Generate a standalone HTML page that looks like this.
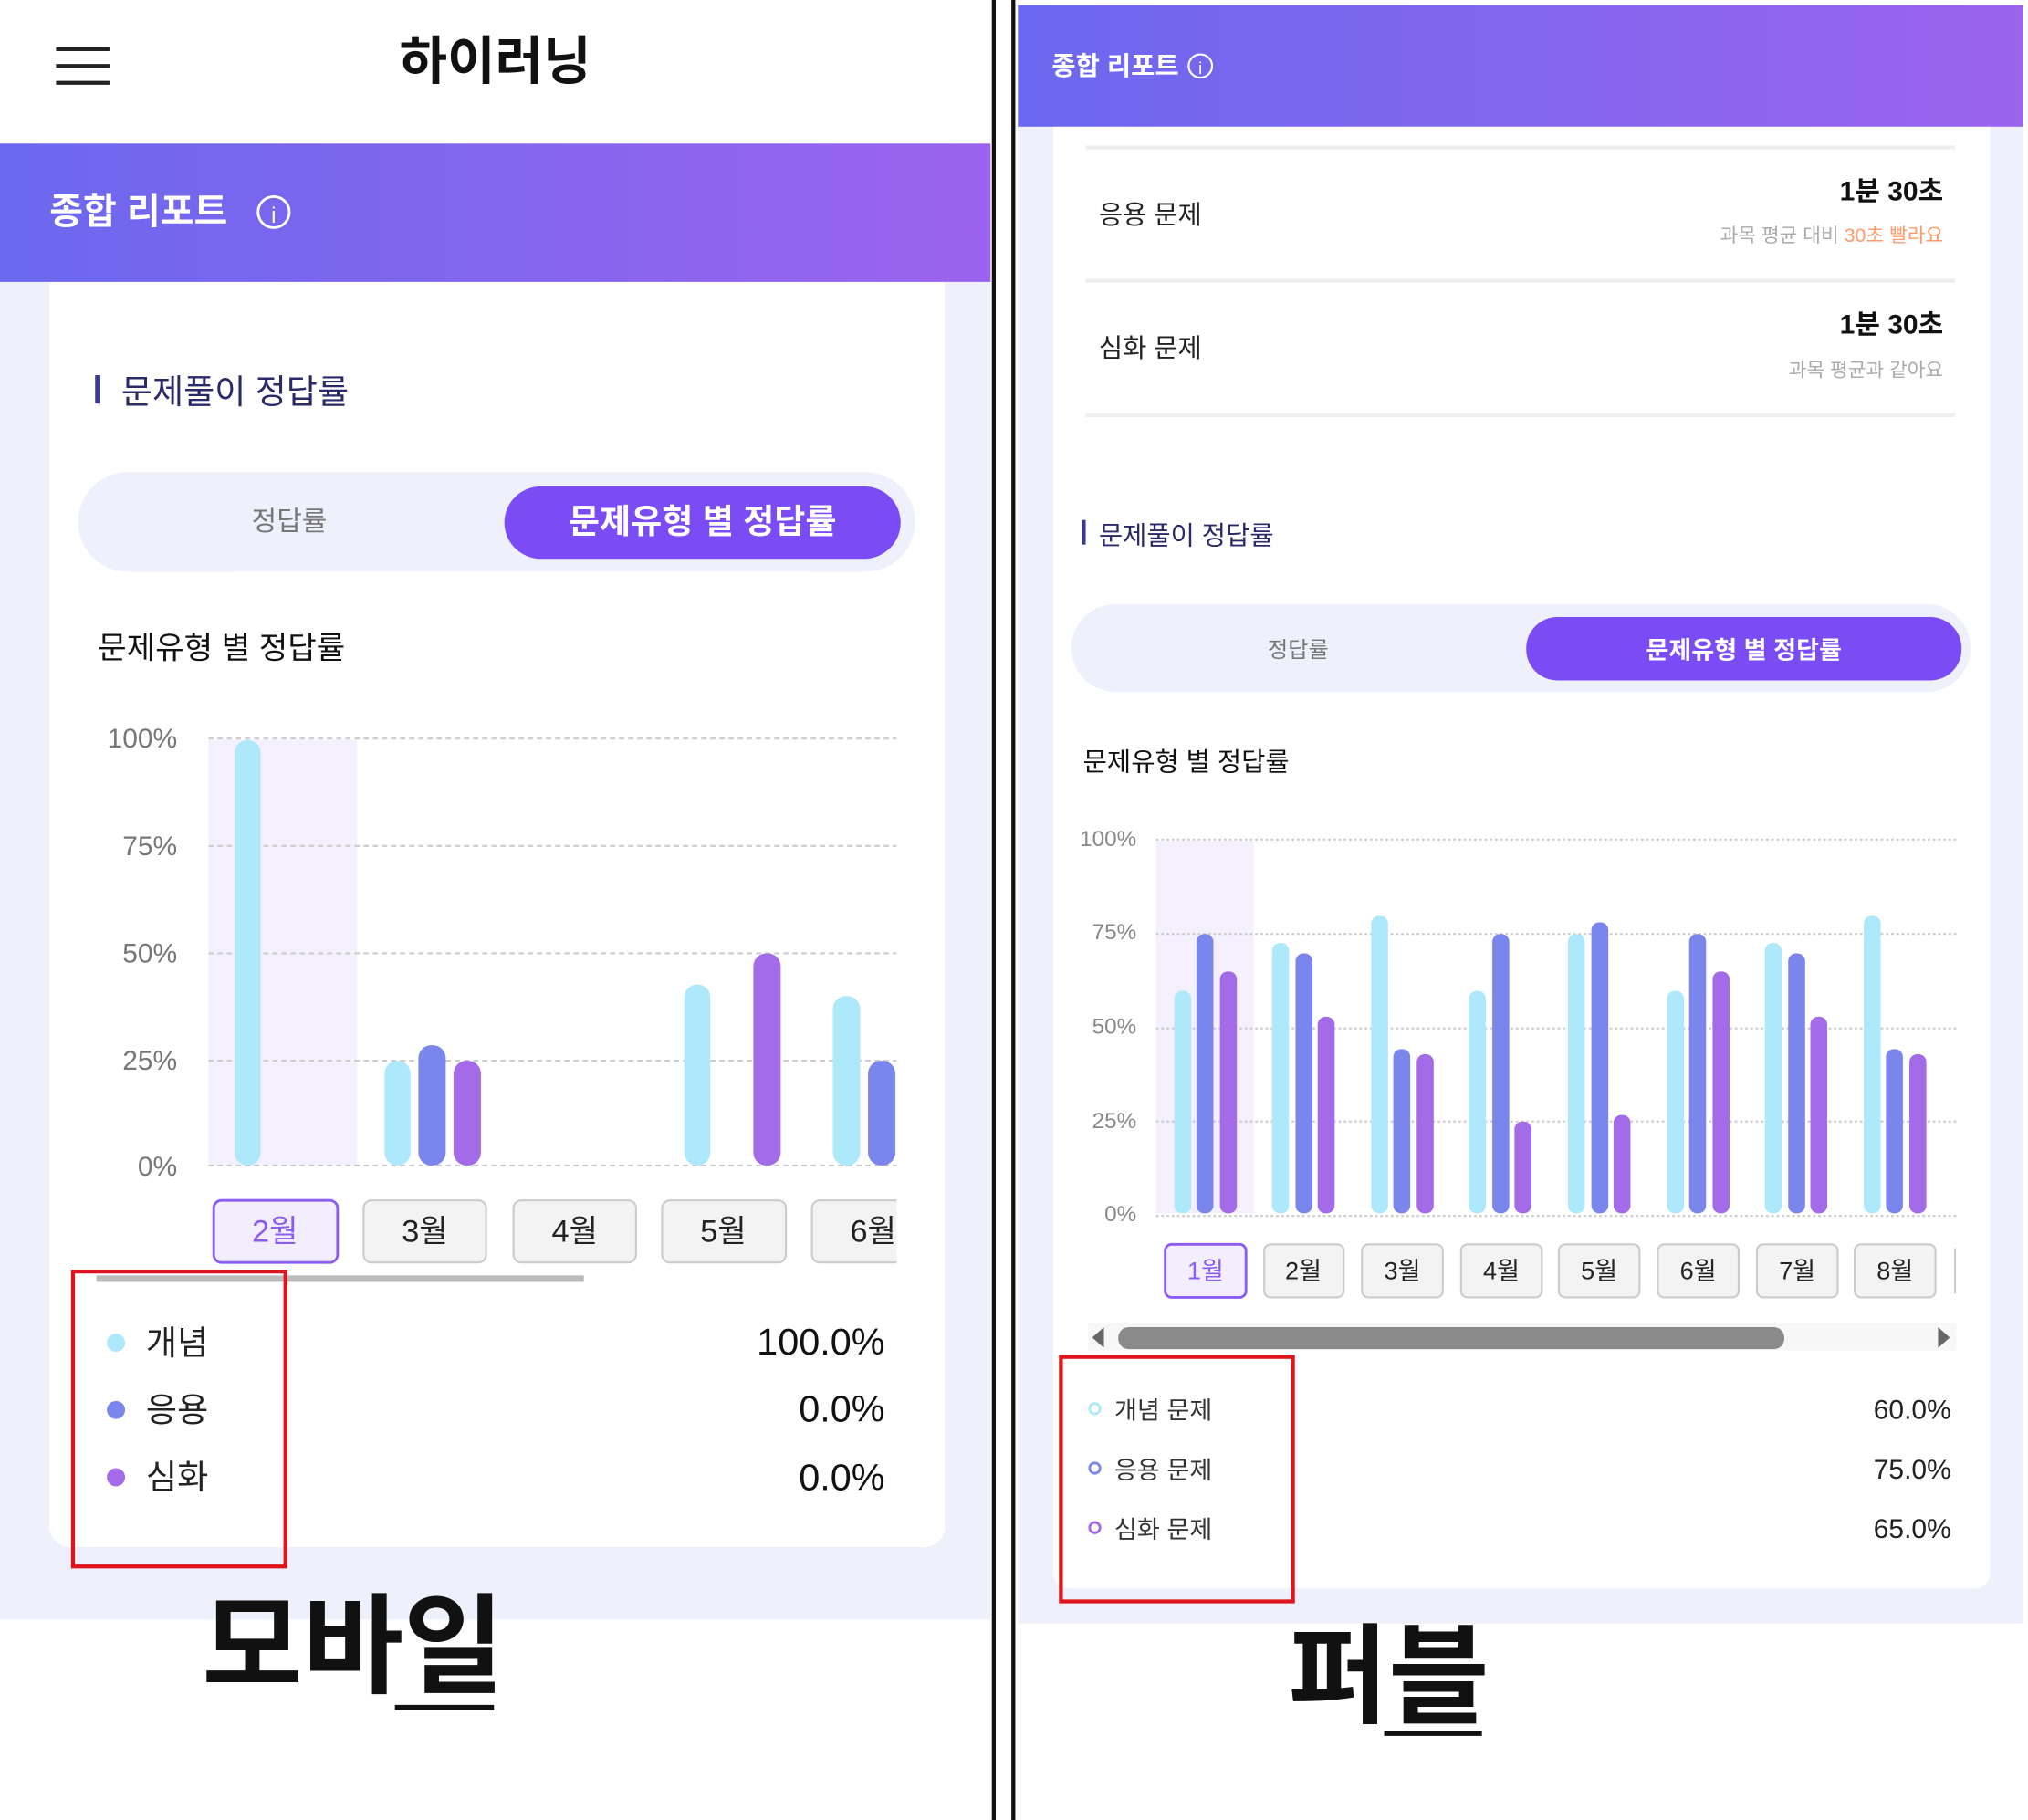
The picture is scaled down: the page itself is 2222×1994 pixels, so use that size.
<!DOCTYPE html>
<html><head><meta charset="utf-8"><style>html,body{margin:0;padding:0;background:#fff}svg{display:block}text{font-family:"Liberation Sans","Noto Sans CJK KR",sans-serif}</style></head><body>
<svg width="2222" height="1994" viewBox="0 0 1556 1407" preserveAspectRatio="none" xmlns="http://www.w3.org/2000/svg">
<defs>
<linearGradient id="g" x1="0" x2="1" y1="0" y2="0"><stop offset="0" stop-color="#6b68ee"/><stop offset="1" stop-color="#9b63ee"/></linearGradient>
</defs>
<rect width="1556" height="1407" fill="#fff"/>
<!-- LEFT -->
<g stroke="#222" stroke-width="3"><line x1="43" y1="38" x2="84" y2="38"/><line x1="43" y1="51" x2="84" y2="51"/><line x1="43" y1="64" x2="84" y2="64"/></g>
<text x="380" y="61" font-size="40" font-weight="bold" text-anchor="middle" fill="#111">하이러닝</text>
<rect x="0" y="111" width="760" height="107" fill="url(#g)"/>
<text x="38" y="173" font-size="28" font-weight="bold" fill="#fff">종합 리포트</text>
<circle cx="210" cy="164" r="12" fill="none" stroke="#fff" stroke-width="2"/><text x="210" y="172" font-size="17" fill="#fff" text-anchor="middle">i</text>
<rect x="0" y="218" width="760" height="1034" fill="#eef0fb"/>
<path d="M38 218 H725 V1180 a16 16 0 0 1 -16 16 H54 a16 16 0 0 1 -16 -16Z" fill="#fff"/>
<rect x="73" y="290" width="4" height="22" fill="#3a3a8a"/>
<text x="93" y="312" font-size="26" fill="#2a2a6a">문제풀이 정답률</text>
<rect x="60" y="365" width="642" height="77" rx="38" fill="#eef0fb"/>
<rect x="387" y="376" width="304" height="56" rx="28" fill="#7b4cf5"/>
<text x="222" y="410" font-size="21" fill="#777" text-anchor="middle">정답률</text>
<text x="539" y="412" font-size="26" font-weight="bold" fill="#fff" text-anchor="middle">문제유형 별 정답률</text>
<text x="75" y="509" font-size="24" fill="#111">문제유형 별 정답률</text>
<g font-size="21" fill="#777" text-anchor="end"><text x="136" y="578">100%</text><text x="136" y="661">75%</text><text x="136" y="744">50%</text><text x="136" y="827">25%</text><text x="136" y="909">0%</text></g>
<rect x="160" y="572" width="114" height="329" fill="#f5f0fe"/>
<g stroke="#ccc" stroke-width="1.5" stroke-dasharray="4 3"><line x1="160" y1="571" x2="688" y2="571"/><line x1="160" y1="654" x2="688" y2="654"/><line x1="160" y1="737" x2="688" y2="737"/><line x1="160" y1="820" x2="688" y2="820"/><line x1="160" y1="901" x2="688" y2="901"/></g>
<g>
<rect x="180" y="572" width="20" height="329" rx="10" fill="#aee8fb"/>
<rect x="295" y="820" width="20" height="81" rx="10" fill="#aee8fb"/>
<rect x="321" y="808" width="21" height="93" rx="10" fill="#7b86ec"/>
<rect x="348" y="820" width="21" height="81" rx="10" fill="#a36be8"/>
<rect x="525" y="761" width="20" height="140" rx="10" fill="#aee8fb"/>
<rect x="578" y="737" width="21" height="164" rx="10" fill="#a36be8"/>
<rect x="639" y="770" width="21" height="131" rx="10" fill="#aee8fb"/>
<rect x="666" y="820" width="21" height="81" rx="10" fill="#7b86ec"/>
</g>
<rect x="164" y="928" width="95" height="48" rx="6" fill="#f3eefe" stroke="#8a5cf0" stroke-width="2"/>
<g fill="#f3f3f3" stroke="#ccc" stroke-width="1.5"><rect x="279" y="928" width="94" height="48" rx="6"/><rect x="394" y="928" width="94" height="48" rx="6"/><rect x="508" y="928" width="95" height="48" rx="6"/><path d="M688 928 H629 a6 6 0 0 0 -6 6 V970 a6 6 0 0 0 6 6 H688"/></g>
<g font-size="24" text-anchor="middle" fill="#222"><text x="211" y="960" fill="#8a5cf0">2월</text><text x="326" y="960">3월</text><text x="441" y="960">4월</text><text x="555" y="960">5월</text><text x="670" y="960">6월</text></g>
<rect x="74" y="986" width="374" height="5" fill="#bbb"/>
<circle cx="89" cy="1038" r="7" fill="#aee8fb"/><circle cx="89" cy="1090" r="7" fill="#7b86ec"/><circle cx="89" cy="1142" r="7" fill="#a36be8"/>
<g font-size="26" fill="#222"><text x="112" y="1047">개념</text><text x="112" y="1099">응용</text><text x="112" y="1151">심화</text></g>
<g font-size="29" fill="#111" text-anchor="end"><text x="679" y="1047">100.0%</text><text x="679" y="1099">0.0%</text><text x="679" y="1152">0.0%</text></g>
<rect x="56" y="983" width="163" height="228" fill="none" stroke="#e0141c" stroke-width="3"/>
<text x="155" y="1302" font-size="84" font-weight="bold" fill="#111">모바일</text>
<rect x="303" y="1318" width="76" height="4" fill="#111"/>
<rect x="761" y="0" width="3" height="1407" fill="#111"/><rect x="776" y="0" width="3" height="1407" fill="#111"/>
<!-- RIGHT -->
<rect x="781" y="4" width="771" height="94" fill="url(#g)"/>
<text x="807" y="58" font-size="20" font-weight="bold" fill="#fff">종합 리포트</text>
<circle cx="921" cy="51" r="9" fill="none" stroke="#fff" stroke-width="1.5"/><text x="921" y="57" font-size="13" fill="#fff" text-anchor="middle">i</text>
<rect x="781" y="98" width="771" height="1157" fill="#eef0fb"/>
<path d="M808 98 H1527 V1216 a12 12 0 0 1 -12 12 H820 a12 12 0 0 1 -12 -12Z" fill="#fff"/>
<g stroke="#eee" stroke-width="3"><line x1="833" y1="114" x2="1500" y2="114"/><line x1="833" y1="217" x2="1500" y2="217"/><line x1="833" y1="321" x2="1500" y2="321"/></g>
<g font-size="20" fill="#222"><text x="843" y="173">응용 문제</text><text x="843" y="276">심화 문제</text></g>
<g font-size="21" font-weight="bold" fill="#111" text-anchor="end"><text x="1491" y="155">1분 30초</text><text x="1491" y="258">1분 30초</text></g>
<text x="1491" y="187" font-size="15" fill="#aaa" text-anchor="end">과목 평균 대비 <tspan fill="#ff9c6a">30초 빨라요</tspan></text>
<text x="1491" y="291" font-size="15" fill="#aaa" text-anchor="end">과목 평균과 같아요</text>
<rect x="830" y="402" width="3" height="19" fill="#3a3a8a"/>
<text x="843" y="421" font-size="20" fill="#2a2a6a">문제풀이 정답률</text>
<rect x="822" y="467" width="690" height="68" rx="34" fill="#eef0fb"/>
<rect x="1171" y="477" width="334" height="49" rx="24" fill="#7b4cf5"/>
<text x="996" y="508" font-size="17" fill="#777" text-anchor="middle">정답률</text>
<text x="1338" y="509" font-size="19" font-weight="bold" fill="#fff" text-anchor="middle">문제유형 별 정답률</text>
<text x="831" y="596" font-size="20" fill="#111">문제유형 별 정답률</text>
<g font-size="17" fill="#888" text-anchor="end"><text x="872" y="654">100%</text><text x="872" y="726">75%</text><text x="872" y="799">50%</text><text x="872" y="872">25%</text><text x="872" y="944">0%</text></g>
<rect x="887" y="650" width="75" height="288" fill="#f5f0fe"/>
<g stroke="#ccc" stroke-width="1.5" stroke-dasharray="2 2"><line x1="887" y1="649" x2="1503" y2="649"/><line x1="887" y1="722" x2="1503" y2="722"/><line x1="887" y1="795" x2="1503" y2="795"/><line x1="887" y1="867" x2="1503" y2="867"/><line x1="887" y1="940" x2="1503" y2="940"/></g>
<g>
<rect x="901" y="766" width="13" height="172" rx="6" fill="#aee8fb"/><rect x="918" y="722" width="13" height="216" rx="6" fill="#7b86ec"/><rect x="936" y="751" width="13" height="187" rx="6" fill="#a36be8"/>
<rect x="976" y="729" width="13" height="209" rx="6" fill="#aee8fb"/><rect x="994" y="737" width="13" height="201" rx="6" fill="#7b86ec"/><rect x="1011" y="786" width="13" height="152" rx="6" fill="#a36be8"/>
<rect x="1052" y="708" width="13" height="230" rx="6" fill="#aee8fb"/><rect x="1069" y="811" width="13" height="127" rx="6" fill="#7b86ec"/><rect x="1087" y="815" width="13" height="123" rx="6" fill="#a36be8"/>
<rect x="1127" y="766" width="13" height="172" rx="6" fill="#aee8fb"/><rect x="1145" y="722" width="13" height="216" rx="6" fill="#7b86ec"/><rect x="1162" y="867" width="13" height="71" rx="6" fill="#a36be8"/>
<rect x="1203" y="722" width="13" height="216" rx="6" fill="#aee8fb"/><rect x="1221" y="713" width="13" height="225" rx="6" fill="#7b86ec"/><rect x="1238" y="862" width="13" height="76" rx="6" fill="#a36be8"/>
<rect x="1279" y="766" width="13" height="172" rx="6" fill="#aee8fb"/><rect x="1296" y="722" width="13" height="216" rx="6" fill="#7b86ec"/><rect x="1314" y="751" width="13" height="187" rx="6" fill="#a36be8"/>
<rect x="1354" y="729" width="13" height="209" rx="6" fill="#aee8fb"/><rect x="1372" y="737" width="13" height="201" rx="6" fill="#7b86ec"/><rect x="1389" y="786" width="13" height="152" rx="6" fill="#a36be8"/>
<rect x="1430" y="708" width="13" height="230" rx="6" fill="#aee8fb"/><rect x="1447" y="811" width="13" height="127" rx="6" fill="#7b86ec"/><rect x="1465" y="815" width="13" height="123" rx="6" fill="#a36be8"/>
</g>
<rect x="894" y="962" width="62" height="41" rx="5" fill="#f3eefe" stroke="#8a5cf0" stroke-width="2"/>
<g fill="#f3f3f3" stroke="#ccc" stroke-width="1.5"><rect x="970" y="962" width="61" height="41" rx="5"/><rect x="1045" y="962" width="62" height="41" rx="5"/><rect x="1121" y="962" width="62" height="41" rx="5"/><rect x="1196" y="962" width="62" height="41" rx="5"/><rect x="1272" y="962" width="62" height="41" rx="5"/><rect x="1348" y="962" width="62" height="41" rx="5"/><rect x="1423" y="962" width="62" height="41" rx="5"/><path d="M1500 965 V1000"/></g>
<g font-size="19" text-anchor="middle" fill="#222"><text x="925" y="989" fill="#8a5cf0">1월</text><text x="1000" y="989">2월</text><text x="1076" y="989">3월</text><text x="1152" y="989">4월</text><text x="1227" y="989">5월</text><text x="1303" y="989">6월</text><text x="1379" y="989">7월</text><text x="1454" y="989">8월</text></g>
<rect x="835" y="1023" width="666" height="21" fill="#f7f7f7"/>
<path d="M847 1026 L838 1034 L847 1042Z" fill="#666"/><path d="M1487 1026 L1496 1034 L1487 1042Z" fill="#666"/>
<rect x="858" y="1026" width="511" height="17" rx="8" fill="#8a8a8a"/>
<circle cx="840" cy="1089" r="4" fill="none" stroke="#aee8fb" stroke-width="2"/><circle cx="840" cy="1135" r="4" fill="none" stroke="#7b86ec" stroke-width="2"/><circle cx="840" cy="1181" r="4" fill="none" stroke="#a36be8" stroke-width="2"/>
<g font-size="19" fill="#333"><text x="855" y="1097">개념 문제</text><text x="855" y="1143">응용 문제</text><text x="855" y="1189">심화 문제</text></g>
<g font-size="21" fill="#222" text-anchor="end"><text x="1497" y="1097">60.0%</text><text x="1497" y="1143">75.0%</text><text x="1497" y="1189">65.0%</text></g>
<rect x="814" y="1049" width="178" height="189" fill="none" stroke="#e0141c" stroke-width="3"/>
<text x="988" y="1325" font-size="84" font-weight="bold" fill="#111">퍼블</text>
<rect x="1062" y="1338" width="75" height="4" fill="#111"/>
</svg>
</body></html>
